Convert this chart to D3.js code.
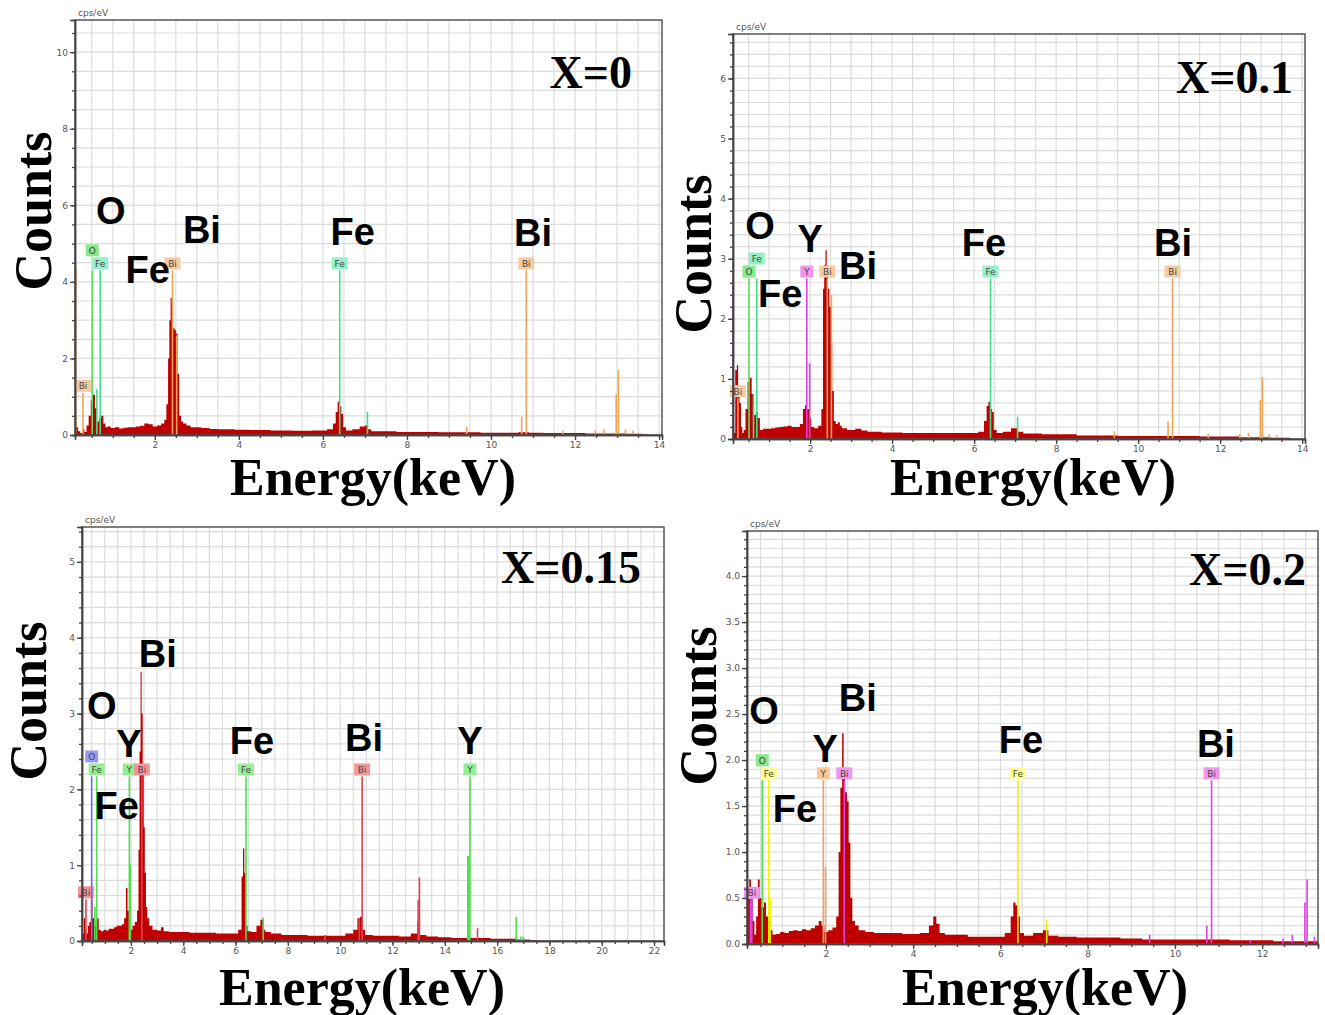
<!DOCTYPE html>
<html>
<head>
<meta charset="utf-8">
<script src="https://cdn.jsdelivr.net/npm/d3@7"></script>
<style>
  body { margin: 0; background: #fff; }
  svg { display: block; }
</style>
</head>
<body>
<svg id="chart" width="1325" height="1015"></svg>
<script>
// ---- spectra: [energy keV, counts cps/eV] ----
const specX0 = [[0.10,0.3],[0.15,0.2],[0.2,0.1],[0.25,0.05],[0.3,0.15],[0.35,0.08],[0.4,0.25],[0.45,0.5],[0.5,0.9],[0.55,1.05],[0.6,0.7],[0.65,0.35],[0.7,0.45],[0.75,0.5],[0.8,0.3],[0.85,0.2],[0.9,0.22],[1.0,0.18],[1.1,0.2],[1.2,0.17],[1.3,0.19],[1.4,0.2],[1.5,0.2],[1.6,0.22],[1.7,0.24],[1.8,0.3],[1.9,0.28],[2.0,0.22],[2.1,0.25],[2.2,0.3],[2.25,0.4],[2.3,0.8],[2.33,2.0],[2.36,3.0],[2.39,3.58],[2.42,3.4],[2.45,2.8],[2.48,2.75],[2.52,2.65],[2.56,1.6],[2.6,0.5],[2.65,0.35],[2.7,0.3],[2.8,0.25],[2.9,0.2],[3.0,0.2],[3.2,0.18],[3.4,0.16],[3.6,0.15],[3.8,0.15],[4.0,0.14],[4.5,0.13],[5.0,0.12],[5.5,0.11],[6.0,0.12],[6.2,0.15],[6.28,0.3],[6.33,0.6],[6.37,0.87],[6.42,0.75],[6.46,0.55],[6.5,0.2],[6.6,0.12],[6.8,0.15],[6.95,0.22],[7.05,0.25],[7.1,0.15],[7.2,0.1],[7.5,0.1],[8,0.08],[8.5,0.08],[9,0.07],[9.5,0.07],[10,0.06],[10.5,0.06],[10.8,0.07],[11,0.06],[11.5,0.05],[12,0.05],[12.5,0.04],[13,0.04],[13.5,0.03],[13.7,0.02],[13.8,0]];

const specX01 = [[0.12,0.35],[0.15,0.1],[0.2,1.15],[0.23,1.23],[0.26,0.7],[0.3,0.6],[0.33,0.2],[0.36,0.1],[0.4,0.15],[0.45,0.5],[0.5,0.95],[0.55,1.02],[0.6,0.75],[0.65,0.4],[0.7,0.45],[0.75,0.35],[0.8,0.15],[0.9,0.17],[1.0,0.17],[1.1,0.18],[1.2,0.19],[1.3,0.2],[1.4,0.21],[1.5,0.22],[1.6,0.2],[1.7,0.2],[1.8,0.25],[1.85,0.5],[1.9,0.56],[1.95,0.5],[2.0,0.35],[2.05,0.2],[2.15,0.18],[2.25,0.22],[2.3,0.5],[2.33,2.5],[2.36,2.9],[2.39,3.14],[2.42,2.8],[2.45,2.5],[2.49,2.2],[2.52,1.6],[2.56,0.8],[2.6,0.3],[2.65,0.25],[2.7,0.28],[2.75,0.22],[2.8,0.18],[3.0,0.15],[3.2,0.17],[3.3,0.14],[3.5,0.12],[4,0.11],[4.5,0.1],[5,0.1],[5.5,0.1],[6.0,0.1],[6.2,0.12],[6.28,0.3],[6.33,0.55],[6.37,0.62],[6.42,0.5],[6.46,0.45],[6.5,0.15],[6.6,0.1],[6.8,0.12],[7.0,0.18],[7.1,0.12],[7.3,0.09],[8,0.08],[9,0.06],[10,0.05],[11,0.05],[12,0.04],[13,0.03],[13.5,0.02],[13.9,0]];

const specX015 = [[0.13,0.35],[0.18,0.1],[0.22,0.3],[0.27,0.15],[0.32,0.1],[0.38,0.2],[0.44,0.25],[0.5,0.55],[0.56,0.3],[0.62,0.2],[0.68,0.28],[0.74,0.3],[0.8,0.15],[0.9,0.13],[1.0,0.15],[1.1,0.14],[1.2,0.16],[1.3,0.16],[1.4,0.18],[1.5,0.2],[1.6,0.2],[1.7,0.22],[1.78,0.3],[1.84,0.7],[1.9,0.4],[1.96,0.3],[2.02,0.15],[2.1,0.2],[2.2,0.25],[2.27,0.4],[2.31,1.2],[2.35,2.5],[2.39,3.55],[2.43,3.0],[2.47,2.3],[2.51,1.5],[2.55,0.9],[2.6,0.45],[2.65,0.3],[2.75,0.2],[2.9,0.15],[3.1,0.14],[3.2,0.18],[3.3,0.13],[3.6,0.12],[4,0.12],[4.5,0.11],[5,0.11],[5.5,0.1],[6,0.1],[6.2,0.15],[6.26,0.85],[6.31,1.22],[6.36,0.9],[6.42,0.2],[6.5,0.13],[6.7,0.12],[6.9,0.2],[7.0,0.28],[7.08,0.15],[7.2,0.12],[7.5,0.1],[8,0.08],[8.5,0.08],[9,0.07],[9.5,0.07],[10,0.07],[10.4,0.1],[10.6,0.15],[10.72,0.3],[10.8,0.32],[10.9,0.15],[11,0.08],[11.5,0.07],[12,0.07],[12.5,0.06],[12.9,0.1],[13.0,0.25],[13.1,0.08],[13.5,0.06],[14,0.05],[14.5,0.04],[15,0.04],[15.5,0.04],[16,0.03],[16.5,0.03],[17,0.02],[17.5,0.01],[17.9,0]];

const specX02 = [[0.19,0.3],[0.22,0.6],[0.26,0.7],[0.3,0.5],[0.34,0.25],[0.38,0.1],[0.42,0.3],[0.46,0.7],[0.5,0.5],[0.55,0.4],[0.6,0.45],[0.65,0.3],[0.7,0.25],[0.75,0.15],[0.8,0.1],[0.9,0.11],[1.0,0.13],[1.1,0.12],[1.2,0.14],[1.3,0.15],[1.4,0.14],[1.5,0.16],[1.6,0.15],[1.7,0.17],[1.8,0.2],[1.87,0.25],[1.93,0.2],[2.0,0.13],[2.1,0.15],[2.2,0.18],[2.27,0.3],[2.31,1.0],[2.35,1.7],[2.39,2.29],[2.42,1.8],[2.46,1.65],[2.5,1.55],[2.54,1.1],[2.58,0.5],[2.63,0.25],[2.7,0.2],[2.8,0.15],[3.0,0.13],[3.2,0.12],[3.5,0.12],[4.0,0.11],[4.3,0.12],[4.42,0.2],[4.5,0.3],[4.56,0.22],[4.65,0.12],[4.8,0.1],[5,0.1],[5.5,0.08],[6.0,0.08],[6.2,0.12],[6.27,0.3],[6.32,0.45],[6.37,0.42],[6.42,0.3],[6.48,0.12],[6.6,0.09],[6.9,0.12],[7.05,0.15],[7.15,0.09],[7.5,0.08],[8,0.07],[8.5,0.07],[9,0.06],[9.5,0.05],[10,0.05],[10.5,0.05],[11,0.05],[11.5,0.04],[12,0.04],[12.5,0.03],[13,0.03],[13.28,0.03]];

// labelled element markers: [element, energy, line height]
const markersX0 = [["Bi",0.29,1.1],["O",0.51,4.3],["Fe",0.70,4.3],["Bi",2.42,4.3],["Fe",6.40,4.3],["Bi",10.84,4.3]];
const markersX01 = [["Bi",0.24,0.68],["O",0.51,2.67],["Fe",0.70,2.67],["Y",1.92,2.67],["Bi",2.42,2.67],["Fe",6.40,2.67],["Bi",10.84,2.67]];
const markersX015 = [["Bi",0.28,0.55],["O",0.50,2.17],["Fe",0.69,2.17],["Y",1.94,2.17],["Bi",2.42,2.17],["Fe",6.40,2.17],["Bi",10.84,2.17],["Y",14.96,2.17]];
const markersX02 = [["Bi",0.30,0.48],["O",0.54,1.78],["Fe",0.69,1.78],["Y",1.94,1.78],["Bi",2.42,1.78],["Fe",6.40,1.78],["Bi",10.84,1.78]];

// unlabelled family lines: [element, energy, line height]
const linesX0 = [["Bi",0.12,4.35],["Fe",0.62,1.2],["Bi",2.52,2.6],["Fe",7.06,0.61],["Bi",9.42,0.22],["Bi",10.73,0.48],["Bi",11.71,0.12],["Bi",12.48,0.12],["Bi",12.69,0.15],["Bi",12.98,1.07],["Bi",13.03,1.7],["Bi",13.2,0.15],["Bi",13.38,0.12]];
const linesX01 = [["Y",0.12,2.67],["Fe",0.62,0.75],["Y",1.99,1.26],["Bi",2.52,2.4],["Fe",7.06,0.37],["Bi",9.42,0.13],["Bi",10.73,0.29],["Bi",11.71,0.08],["Bi",12.48,0.08],["Bi",12.69,0.1],["Bi",12.98,0.65],["Bi",13.03,1.03],["Bi",13.2,0.08],["Bi",13.38,0.06]];
const linesX015 = [["Fe",0.13,2.17],["Fe",0.62,0.45],["Y",1.98,1.01],["Fe",7.06,0.31],["Bi",9.42,0.08],["Bi",10.73,0.3],["Bi",12.98,0.54],["Bi",13.03,0.84],["Y",14.88,1.12],["Y",14.91,1.12],["Bi",15.25,0.17],["Y",16.73,0.32],["Y",16.9,0.06],["Y",17.0,0.06]];
const linesX02 = [["Bi",0.27,0.55],["Fe",0.72,0.5],["Y",1.99,0.84],["Fe",7.06,0.26],["Bi",9.42,0.1],["Bi",10.73,0.2],["Bi",11.73,0.04],["Bi",12.48,0.06],["Bi",12.69,0.1],["Bi",12.98,0.45],["Bi",13.03,0.7],["Bi",13.2,0.08]];

// big element annotations: [text, energy, counts]
const notesX0 = [["O",0.95,5.87],["Fe",1.83,4.33],["Bi",3.12,5.38],["Fe",6.71,5.33],["Bi",11.0,5.30]];
const notesX01 = [["O",0.78,3.55],["Y",2.0,3.34],["Fe",1.27,2.43],["Bi",3.17,2.89],["Fe",6.24,3.27],["Bi",10.85,3.27]];
const notesX015 = [["O",0.89,3.11],["Y",1.92,2.61],["Fe",1.46,1.79],["Bi",3.03,3.79],["Fe",6.63,2.65],["Bi",10.91,2.68],["Y",14.96,2.65]];
const notesX02 = [["O",0.58,2.54],["Y",1.98,2.13],["Fe",1.29,1.48],["Bi",2.73,2.68],["Fe",6.47,2.22],["Bi",10.94,2.18]];

const sampleTitles = ["X=0", "X=0.1", "X=0.15", "X=0.2"];

// ---- layout / style ----
const colA = {O: ["#5ede5e", "#86ea86"], Fe: ["#3ee08e", "#94f0c6"], Bi: ["#f0a458", "#f9c9a0"], Y: ["#e040e0", "#f095f0"]};
const colC = {O: ["#6a6af0", "#9a9af4"], Fe: ["#4ede4e", "#94ee94"], Y: ["#4ede4e", "#94ee94"], Bi: ["#e2404e", "#f3959c"]};
const colD = {O: ["#4ede4e", "#86ea86"], Fe: ["#f2f200", "#ffff96"], Y: ["#f0a060", "#f9c79a"], Bi: ["#e040e0", "#f095f0"]};

const panels = [
  {spec: specX0, markers: markersX0, lines: linesX0, notes: notesX0, title: sampleTitles[0],
   box: [75, 20, 662, 435], xDom: [0.1, 14.07], yDom: [0, 10.84], yStep: 2, yMinor: 0.5, yFmt: "d",
   colors: colA, raise: "O", titleAt: [632, 73], countsAt: [35, 211], energyAt: [373, 495]},
  {spec: specX01, markers: markersX01, lines: linesX01, notes: notesX01, title: sampleTitles[1],
   box: [733, 34, 1305, 439], xDom: [0.12, 14.07], yDom: [0, 6.74], yStep: 1, yMinor: 0.2, yFmt: "d",
   colors: colA, raise: "Fe", titleAt: [1293, 78], countsAt: [695, 254], energyAt: [1033, 495]},
  {spec: specX015, markers: markersX015, lines: linesX015, notes: notesX015, title: sampleTitles[2],
   box: [82, 527, 664, 941], xDom: [0.13, 22.38], yDom: [0, 5.46], yStep: 1, yMinor: 0.2, yFmt: "d",
   colors: colC, raise: "O", titleAt: [641, 568], countsAt: [30, 701], energyAt: [362, 1005]},
  {spec: specX02, markers: markersX02, lines: linesX02, notes: notesX02, title: sampleTitles[3],
   box: [747, 531, 1318, 944], xDom: [0.19, 13.28], yDom: [0, 4.49], yStep: 0.5, yMinor: 0.1, yFmt: ".1f",
   colors: colD, raise: "O", titleAt: [1306, 570], countsAt: [700, 706], energyAt: [1045, 1005]}
];

const svg = d3.select("#chart");
const eps = 1e-9;

panels.forEach(p => {
  const [x0, y0, x1, y1] = p.box;
  const x = d3.scaleLinear().domain(p.xDom).range([x0, x1]);
  const y = d3.scaleLinear().domain(p.yDom).range([y1, y0]);
  const g = svg.append("g");

  // grid
  const xGrid = d3.range(Math.ceil(p.xDom[0] / 0.5) * 0.5, p.xDom[1] + eps, 0.5);
  const yGrid = d3.range(p.yMinor, p.yDom[1] + eps, p.yMinor);
  g.append("g").selectAll("line").data(xGrid).join("line")
    .attr("x1", d => x(d)).attr("x2", d => x(d)).attr("y1", y0).attr("y2", y1)
    .attr("stroke", "#dcdcdc").attr("stroke-width", 1.2);
  g.append("g").selectAll("line").data(yGrid).join("line")
    .attr("x1", x0).attr("x2", x1).attr("y1", d => y(d)).attr("y2", d => y(d))
    .attr("stroke", "#dcdcdc").attr("stroke-width", 1.2);

  // spectrum, drawn as a histogram
  const area = d3.area().x(d => x(d[0])).y0(y(0)).y1(d => y(d[1])).curve(d3.curveStep);
  g.append("path").datum(p.spec).attr("d", area).attr("fill", "#bf0000");

  // family lines
  g.append("g").selectAll("line").data(p.lines).join("line")
    .attr("x1", d => x(d[1])).attr("x2", d => x(d[1]))
    .attr("y1", y(0)).attr("y2", d => y(d[2]))
    .attr("stroke", d => p.colors[d[0]][0]).attr("stroke-width", 1.6);

  // labelled markers
  const mk = g.append("g").selectAll("g").data(p.markers).join("g");
  mk.append("line")
    .attr("x1", d => x(d[1])).attr("x2", d => x(d[1]))
    .attr("y1", y(0)).attr("y2", d => y(d[2]))
    .attr("stroke", d => p.colors[d[0]][0]).attr("stroke-width", 1.6);
  const boxW = d => d[0].length > 1 ? 16 : 13;
  const boxTop = d => {
    let t = y(d[2]) - 13;
    if (d[0] === p.raise && d[1] < 1) t -= 13;
    return t;
  };
  mk.append("rect")
    .attr("x", d => x(d[1]) - boxW(d) / 2).attr("y", boxTop)
    .attr("width", boxW).attr("height", 12)
    .attr("fill", d => p.colors[d[0]][1]);
  mk.append("text")
    .attr("x", d => x(d[1])).attr("y", d => boxTop(d) + 9.5)
    .attr("text-anchor", "middle")
    .style("font", "9px 'DejaVu Sans', sans-serif").attr("fill", "#444")
    .text(d => d[0]);

  // frame
  g.append("rect").attr("x", x0).attr("y", y0).attr("width", x1 - x0).attr("height", y1 - y0)
    .attr("fill", "none").attr("stroke", "#555").attr("stroke-width", 1.5);

  // axes
  const tickFont = "9px 'DejaVu Sans', sans-serif";
  const yAxis = d3.axisLeft(y).tickValues(d3.range(0, p.yDom[1] + eps, p.yStep))
    .tickFormat(d3.format(p.yFmt)).tickSize(5).tickPadding(2);
  const yMinorAxis = d3.axisLeft(y).tickValues(yGrid).tickFormat("").tickSize(3);
  const xAxis = d3.axisBottom(x).tickValues(d3.range(2, p.xDom[1] + eps, 2))
    .tickFormat(d3.format("d")).tickSize(5).tickPadding(2);
  const xMinorAxis = d3.axisBottom(x).tickValues(xGrid).tickFormat("").tickSize(3);
  [
    g.append("g").attr("transform", `translate(${x0},0)`).call(yMinorAxis),
    g.append("g").attr("transform", `translate(${x0},0)`).call(yAxis),
    g.append("g").attr("transform", `translate(0,${y1})`).call(xMinorAxis),
    g.append("g").attr("transform", `translate(0,${y1})`).call(xAxis)
  ].forEach(a => {
    a.select(".domain").attr("stroke", "#444").attr("stroke-width", 1.5);
    a.selectAll(".tick line").attr("stroke", "#444").attr("stroke-width", 1.3);
    a.selectAll("text").style("font", tickFont).attr("fill", "#555");
  });

  g.append("text").attr("x", x0 + 3).attr("y", y0 - 4)
    .style("font", "9px 'DejaVu Sans', sans-serif").attr("fill", "#555").text("cps/eV");

  // element annotations
  g.append("g").selectAll("text").data(p.notes).join("text")
    .attr("x", d => x(d[1])).attr("y", d => y(d[2]))
    .attr("dy", "0.36em").attr("text-anchor", "middle")
    .style("font", "bold 38px 'Liberation Sans', Arial, sans-serif").attr("fill", "#000")
    .text(d => d[0]);

  // titles
  g.append("text").attr("x", p.titleAt[0]).attr("y", p.titleAt[1])
    .attr("dy", "0.33em").attr("text-anchor", "end")
    .style("font", "bold 46px 'Liberation Serif', 'Times New Roman', serif").text(p.title);
  g.append("text")
    .attr("transform", `translate(${p.countsAt[0]},${p.countsAt[1]}) rotate(-90)`)
    .attr("dy", "0.3em").attr("text-anchor", "middle")
    .style("font", "bold 52px 'Liberation Serif', 'Times New Roman', serif").text("Counts");
  g.append("text").attr("x", p.energyAt[0]).attr("y", p.energyAt[1])
    .attr("text-anchor", "middle")
    .style("font", "bold 52px 'Liberation Serif', 'Times New Roman', serif").text("Energy(keV)");
});
</script>
</body>
</html>
